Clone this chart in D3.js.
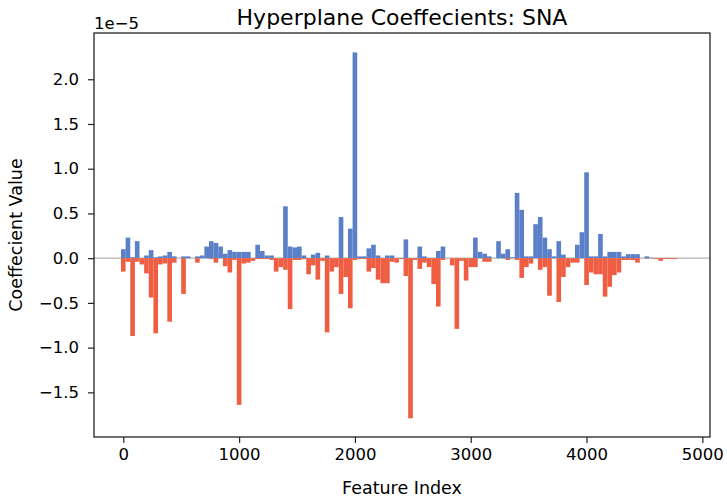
<!DOCTYPE html>
<html>
<head>
<meta charset="utf-8">
<script src="https://cdn.jsdelivr.net/npm/d3@7"></script>
<style>
  body { margin: 0; background: #ffffff; }
  text { font-family: "DejaVu Sans", sans-serif; fill: #000; }
</style>
</head>
<body>
<svg id="chart" width="727" height="500"></svg>
<script>
// ---- data (coefficient values in units of 1e-5) ----
const featureIndex = [
  0,40,80,120,160,200,240,280,320,360,400,440,480,520,560,600,640,680,720,760,
  800,840,880,920,960,1000,1040,1080,1120,1160,1200,1240,1280,1320,1360,1400,1440,1480,1520,1560,
  1600,1640,1680,1720,1760,1800,1840,1880,1920,1960,2000,2040,2080,2120,2160,2200,2240,2280,2320,2360,
  2400,2440,2480,2520,2560,2600,2640,2680,2720,2760,2800,2840,2880,2920,2960,3000,3040,3080,3120,3160,
  3200,3240,3280,3320,3360,3400,3440,3480,3520,3560,3600,3640,3680,3720,3760,3800,3840,3880,3920,3960,
  4000,4040,4080,4120,4160,4200,4240,4280,4320,4360,4400,4440,4480,4520,4560,4600,4640,4680,4720,4760
];
const positiveCoef = [
  0.10,0.23,0.01,0.19,0.00,0.03,0.09,0.01,0.02,0.03,0.07,0.02,0.00,0.02,0.02,0.00,0.02,0.03,0.13,0.19,
  0.17,0.13,0.05,0.09,0.07,0.07,0.07,0.07,0.00,0.15,0.08,0.03,0.03,0.00,0.00,0.58,0.13,0.12,0.13,0.03,
  0.00,0.04,0.06,0.00,0.03,0.00,0.00,0.46,0.00,0.33,2.30,0.02,0.02,0.11,0.15,0.03,0.00,0.03,0.03,0.00,
  0.00,0.21,0.00,0.00,0.13,0.02,0.00,0.00,0.08,0.13,0.00,0.00,0.00,0.00,0.00,0.00,0.23,0.07,0.05,0.02,
  0.00,0.19,0.05,0.10,0.01,0.73,0.54,0.02,0.02,0.38,0.46,0.23,0.10,0.02,0.19,0.04,0.00,0.00,0.15,0.29,
  0.96,0.02,0.02,0.27,0.02,0.07,0.07,0.07,0.02,0.045,0.045,0.045,0.00,0.02,0.005,0.00,0.00,0.00,0.00,0.00
];
const negativeCoef = [
  -0.15,-0.04,-0.87,-0.04,-0.07,-0.17,-0.44,-0.84,-0.07,-0.06,-0.71,-0.05,0.00,-0.40,0.00,0.00,-0.05,0.00,0.00,-0.01,
  -0.05,0.00,-0.09,-0.16,-0.02,-1.64,-0.06,-0.05,-0.03,-0.01,-0.01,-0.01,-0.02,-0.15,-0.10,-0.13,-0.57,-0.02,-0.02,-0.01,
  -0.18,-0.08,-0.24,-0.03,-0.83,-0.15,-0.10,-0.40,-0.21,-0.56,-0.02,-0.01,-0.01,-0.15,-0.11,-0.24,-0.28,-0.28,-0.04,-0.05,
  -0.01,-0.20,-1.79,-0.02,-0.12,-0.05,-0.10,-0.29,-0.54,-0.02,0.00,-0.08,-0.79,-0.03,-0.25,-0.10,-0.10,0.00,-0.04,-0.04,
  0.00,0.00,0.00,-0.02,0.00,-0.02,-0.22,-0.10,-0.06,0.00,-0.13,-0.10,-0.42,0.00,-0.49,-0.21,-0.10,-0.05,-0.05,0.00,
  -0.30,-0.16,-0.18,-0.18,-0.43,-0.32,-0.19,-0.16,-0.02,-0.02,-0.02,-0.05,0.00,-0.005,0.00,-0.01,-0.03,-0.01,-0.01,-0.01
];
const xTicks = [0, 1000, 2000, 3000, 4000, 5000];
const yTicks = [-1.5, -1.0, -0.5, 0.0, 0.5, 1.0, 1.5, 2.0];
const binWidth = 40;
const title = "Hyperplane Coeffecients: SNA";
const xLabel = "Feature Index";
const yLabel = "Coeffecient Value";
const offsetText = "1e\u22125";

// ---- layout ----
const L = 94, R = 710, T = 33, B = 437;
const svg = d3.select("#chart");

const x = d3.scaleLinear().domain([-253, 5066]).range([L, R]);
const y = d3.scaleLinear().domain([-1.999, 2.517]).range([B, T]);

// zero line
svg.append("line")
  .attr("x1", L).attr("x2", R)
  .attr("y1", y(0)).attr("y2", y(0))
  .attr("stroke", "#b4b4b4").attr("stroke-width", 1.3);

const pos = featureIndex.map((f, i) => ({ f, v: positiveCoef[i] })).filter(d => d.v > 0);
const neg = featureIndex.map((f, i) => ({ f, v: negativeCoef[i] })).filter(d => d.v < 0);

svg.append("g").selectAll("rect").data(pos).join("rect")
  .attr("x", d => x(d.f - binWidth / 2))
  .attr("width", d => x(d.f + binWidth / 2) - x(d.f - binWidth / 2))
  .attr("y", d => y(d.v))
  .attr("height", d => y(0) - y(d.v))
  .attr("fill", "#5b80c8");

svg.append("g").selectAll("rect").data(neg).join("rect")
  .attr("x", d => x(d.f - binWidth / 2))
  .attr("width", d => x(d.f + binWidth / 2) - x(d.f - binWidth / 2))
  .attr("y", y(0))
  .attr("height", d => y(d.v) - y(0))
  .attr("fill", "#ef5e42");

// axes
const xAxis = d3.axisBottom(x).tickValues(xTicks).tickFormat(d3.format("d")).tickSize(6).tickPadding(5);
const yAxis = d3.axisLeft(y).tickValues(yTicks).tickFormat(d3.format(".1f")).tickSize(6).tickPadding(9);

const gx = svg.append("g").attr("transform", `translate(0,${B})`).call(xAxis);
const gy = svg.append("g").attr("transform", `translate(${L},0)`).call(yAxis);
[gx, gy].forEach(g => {
  g.select(".domain").remove();
  g.selectAll(".tick line").attr("stroke", "#222").attr("stroke-width", 1.2);
  g.selectAll(".tick text").style("font-family", "DejaVu Sans").style("font-size", "16.5px").attr("fill", "#000");
});

// frame
svg.append("rect")
  .attr("x", L).attr("y", T).attr("width", R - L).attr("height", B - T)
  .attr("fill", "none").attr("stroke", "#222").attr("stroke-width", 1.3);

// texts
svg.append("text").attr("x", (L + R) / 2).attr("y", 25)
  .attr("text-anchor", "middle").style("font-size", "22px").text(title);
svg.append("text").attr("x", (L + R) / 2).attr("y", 494)
  .attr("text-anchor", "middle").style("font-size", "17.5px").text(xLabel);
svg.append("text").attr("transform", `translate(22,${(T + B) / 2}) rotate(-90)`)
  .attr("text-anchor", "middle").style("font-size", "17.5px").text(yLabel);
svg.append("text").attr("x", L).attr("y", 29)
  .attr("text-anchor", "start").style("font-size", "16.5px").text(offsetText);
</script>
</body>
</html>
